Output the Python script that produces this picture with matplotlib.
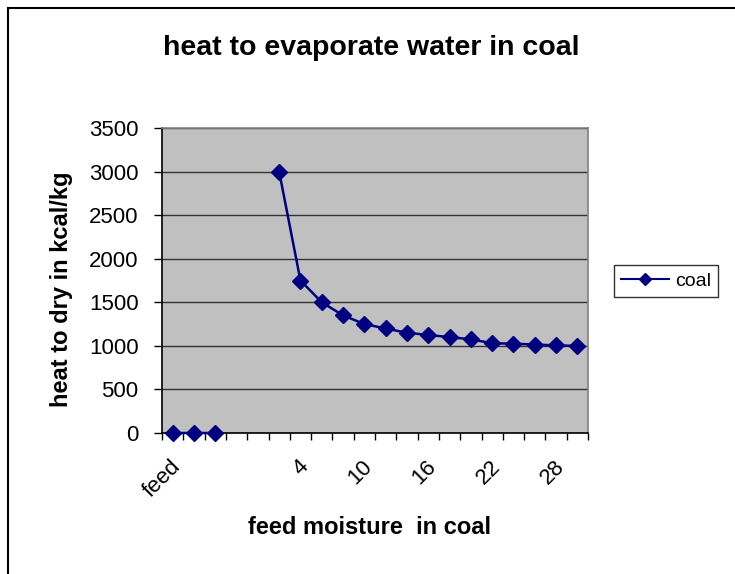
import numpy as np
import matplotlib.pyplot as plt
from matplotlib.lines import Line2D
from matplotlib.transforms import ScaledTranslation

plt.rcParams['font.family'] = ['Liberation Sans', 'DejaVu Sans']

# categorie dell'asse x (Excel: una etichetta ogni 3)
categorie = ['feed', '', '', '', '0', '2', '4', '6', '8', '10', '12', '14',
             '16', '18', '20', '22', '24', '26', '28', '30']
# calore per evaporare l'acqua (kcal/kg), None = cella vuota
calore = [0, 0, 0, None, None, 3000, 1750, 1500, 1350, 1250, 1200, 1150,
          1125, 1100, 1075, 1030, 1025, 1015, 1005, 1000]

blu = '#000080'

fig = plt.figure(figsize=(7.35, 5.74), dpi=100)
# bordo esterno del grafico
fig.patches.append(plt.Rectangle((8 / 735, -0.01), 1.0, 1 - 8 / 574 + 0.01,
                                 transform=fig.transFigure, fill=False,
                                 edgecolor='black', linewidth=1.5))

ax = fig.add_axes([162 / 735, 1 - 433 / 574, (588 - 162) / 735, (433 - 128) / 574])
ax.set_facecolor('#C0C0C0')

x = np.arange(len(categorie))
y = np.array([np.nan if v is None else v for v in calore], dtype=float)

# i tre zeri iniziali e la curva sono tratti separati (celle vuote in mezzo)
ax.plot(x, y, color=blu, marker='D', markersize=8.5, linewidth=1.8, zorder=3,
        clip_on=False)

ax.set_xlim(-0.5, len(categorie) - 0.5)
ax.set_ylim(0, 3500)
ax.set_yticks(np.arange(0, 3501, 500))
ax.yaxis.grid(True, color='#333333', linewidth=1)
ax.set_axisbelow(True)

# tacche ai bordi delle categorie, etichette ogni 3 categorie
ax.set_xticks(np.arange(-0.5, len(categorie), 1))
ax.set_xticklabels([])
ax.tick_params(axis='x', which='major', length=5, direction='out', width=1)
ax.set_xticks(x[::3], minor=True)
ax.set_xticklabels(categorie[::3], minor=True, rotation=45, ha='right',
                   va='center', rotation_mode='anchor', fontsize=16)
ax.tick_params(axis='x', which='minor', length=0, pad=22)
spost = ScaledTranslation(5 / 100, 0, fig.dpi_scale_trans)
for lab in ax.get_xticklabels(minor=True):
    lab.set_transform(lab.get_transform() + spost)
ax.tick_params(axis='y', length=6, width=1, labelsize=16, pad=11)

for s in ['left', 'bottom']:
    ax.spines[s].set_color('black')
    ax.spines[s].set_linewidth(1.2)
for s in ['top', 'right']:
    ax.spines[s].set_color('#808080')
    ax.spines[s].set_linewidth(1.2)

fig.text(371 / 735, 1 - 48 / 574, 'heat to evaporate water in coal',
         ha='center', va='center', fontsize=20.5, fontweight='bold')
fig.text(62 / 735, 1 - 289 / 574, 'heat to dry in kcal/kg', rotation=90,
         ha='center', va='center', fontsize=17, fontweight='bold')
fig.text(370 / 735, 1 - 527 / 574, 'feed moisture  in coal',
         ha='center', va='center', fontsize=17, fontweight='bold')

handle = Line2D([], [], color=blu, marker='D', markersize=6, linewidth=1.5)
leg = fig.legend([handle], ['coal'], loc='center', bbox_to_anchor=(666 / 735, 1 - 281 / 574),
                 fontsize=14, frameon=True, fancybox=False, handlelength=2.5,
                 handletextpad=0.3, borderpad=0.35)
leg.get_frame().set_edgecolor('black')
leg.get_frame().set_linewidth(1)

fig.savefig('out.png', dpi=100)
